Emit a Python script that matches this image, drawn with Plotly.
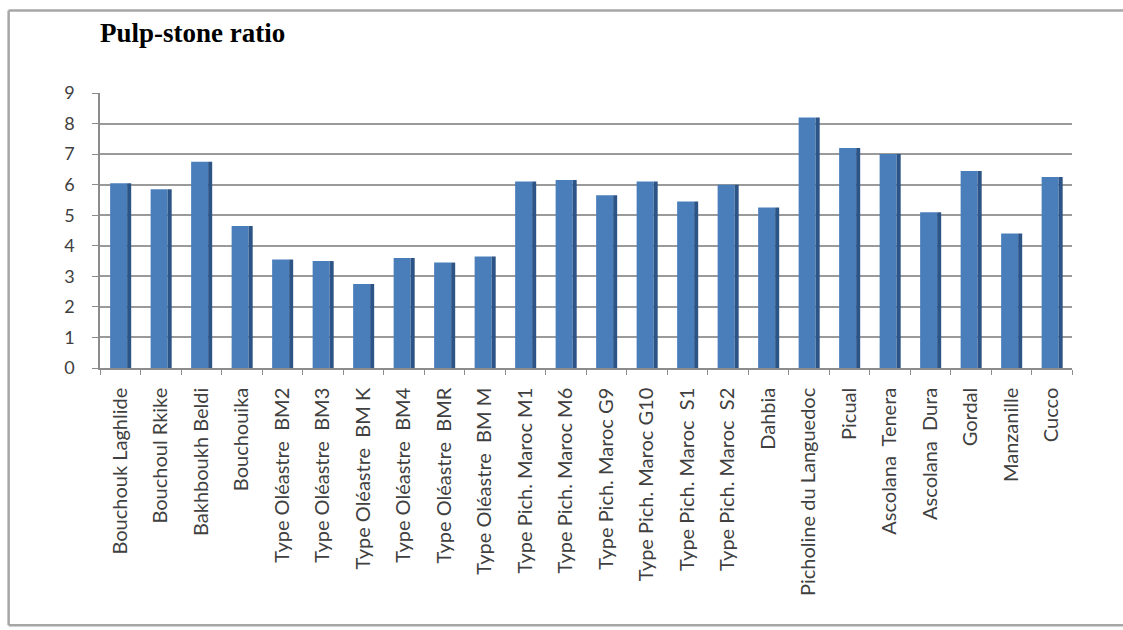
import plotly.graph_objects as go

categories = [
    "Bouchouk Laghlide", "Bouchoul Rkike", "Bakhboukh Beldi", "Bouchouika",
    "Type Oléastre  BM2", "Type Oléastre  BM3", "Type Oléastre  BM K", "Type Oléastre  BM4",
    "Type Oléastre  BMR", "Type Oléastre  BM M", "Type Pich. Maroc M1", "Type Pich. Maroc M6",
    "Type Pich. Maroc G9", "Type Pich. Maroc G10", "Type Pich. Maroc  S1", "Type Pich. Maroc  S2",
    "Dahbia", "Picholine du Languedoc", "Picual", "Ascolana  Tenera", "Ascolana  Dura",
    "Gordal", "Manzanille", "Cucco",
]
values = [6.05, 5.85, 6.75, 4.65, 3.55, 3.5, 2.75, 3.6, 3.45, 3.65, 6.1, 6.15,
          5.65, 6.1, 5.45, 6.0, 5.25, 8.2, 7.2, 7.0, 5.1, 6.45, 4.4, 6.25]
y_ticks = [0, 1, 2, 3, 4, 5, 6, 7, 8, 9]

fig = go.Figure()
# front face
fig.add_trace(go.Bar(
    x=categories, y=values, width=0.42, offset=-0.25,
    marker=dict(color="#4a7ebb", line=dict(width=0)),
    showlegend=False, hoverinfo="x+y",
))
# darker side face (pseudo 3D)
fig.add_trace(go.Bar(
    x=categories, y=values, width=0.1, offset=0.17,
    marker=dict(color="#2d5486", line=dict(width=0)),
    showlegend=False, hoverinfo="skip",
))

frame = dict(color="#a6a6a6", width=2.5)
fig.update_layout(
    width=1123, height=630,
    barmode="overlay",
    margin=dict(l=100, r=51, t=93, b=262),
    paper_bgcolor="white", plot_bgcolor="white",
    title=dict(text="<b>Pulp-stone ratio</b>", x=0.089, xanchor="left",
               y=0.949, yanchor="middle",
               font=dict(family="Liberation Serif", size=27, color="black")),
    font=dict(family="Lato", color="#404040"),
    xaxis=dict(
        type="category", tickangle=-90, tickson="boundaries",
        ticks="outside", ticklen=5, tickcolor="#8c8c8c",
        showline=True, linecolor="#8c8c8c", linewidth=1.5,
        tickfont=dict(size=20, family="Lato", color="#404040"),
        showgrid=False, ticklabelstandoff=10,
    ),
    yaxis=dict(
        range=[0, 9], tickvals=y_ticks, ticks="outside", ticklen=6,
        tickcolor="#8c8c8c", showline=True, linecolor="#8c8c8c", linewidth=1.5,
        showgrid=True, gridcolor="#9a9a9a", gridwidth=1.5,
        tickfont=dict(size=18, family="Lato", color="#404040"),
        zeroline=False, ticklabelstandoff=14,
    ),
    shapes=[
        dict(type="line", xref="paper", yref="paper", x0=-0.094, x1=1.2, y0=1.3, y1=1.3,
             line=frame, layer="below"),
        dict(type="line", xref="paper", yref="paper", x0=-0.094, x1=-0.094, y0=-0.935, y1=1.3,
             line=frame, layer="below"),
        dict(type="line", xref="paper", yref="paper", x0=-0.094, x1=1.2, y0=-0.935, y1=-0.935,
             line=frame, layer="below"),
    ],
)

fig.write_html("out.html")
